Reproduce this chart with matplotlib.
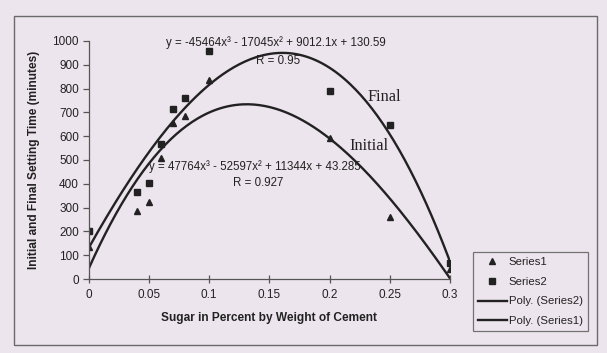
import numpy as np
import matplotlib.pyplot as plt
from matplotlib.patches import Rectangle
from matplotlib.lines import Line2D

# data
sugar = [0, 0.04, 0.05, 0.06, 0.07, 0.08, 0.1, 0.2, 0.25, 0.3]
series1 = [136, 287, 325, 510, 657, 686, 838, 591, 259, 41]   # initial
series2 = [203, 364, 402, 567, 716, 759, 959, 790, 647, 68]   # final

# trendline coefficients as printed on the chart (x^3, x^2, x, 1)
final_coef = [-45464, -17045, 9012.1, 130.59]
initial_coef = [47764, -52597, 11344, 43.285]
final_r = 0.95
initial_r = 0.927

x_ticks = [0, 0.05, 0.1, 0.15, 0.2, 0.25, 0.3]
x_labels = ['0', '0.05', '0.1', '0.15', '0.2', '0.25', '0.3']
y_ticks = list(range(0, 1001, 100))

bg = '#ede5ed'
ink = '#222222'
plt.rcParams['font.family'] = ['Liberation Sans', 'DejaVu Sans']

fig = plt.figure(figsize=(6.07, 3.53), dpi=100, facecolor=bg)
ax = fig.add_axes([0.1461, 0.2096, 0.5953, 0.6743], facecolor=bg)

# outer chart border
fig.patches.append(Rectangle((14 / 607, 1 - 345 / 353), 583 / 607, 329 / 353,
                             transform=fig.transFigure, fill=False,
                             edgecolor='#6a6a6a', linewidth=1.0))

xs = np.linspace(min(sugar), max(sugar), 200)
ax.plot(xs, np.polyval(final_coef, xs), color=ink, lw=1.7)
ax.plot(xs, np.polyval(initial_coef, xs), color=ink, lw=1.7)
ax.plot(sugar, series1, '^', color=ink, markersize=5, linestyle='none')
ax.plot(sugar, series2, 's', color=ink, markersize=4.8, linestyle='none')

ax.set_xlim(0, 0.3)
ax.set_ylim(0, 1000)
ax.set_xticks(x_ticks)
ax.set_xticklabels(x_labels)
ax.set_yticks(y_ticks)
for s in ['top', 'right']:
    ax.spines[s].set_visible(False)
for s in ['left', 'bottom']:
    ax.spines[s].set_color('#555555')
    ax.spines[s].set_linewidth(0.9)
ax.tick_params(axis='x', direction='inout', length=6, width=0.9, color='#555555',
               labelsize=8.5, labelcolor=ink, pad=4)
ax.tick_params(axis='y', direction='out', length=4, width=0.9, color='#555555',
               labelsize=8.5, labelcolor=ink, pad=3)
ax.set_xlabel('Sugar in Percent by Weight of Cement', fontsize=8.6,
              fontweight='bold', color=ink, labelpad=8)
ax.set_ylabel('Initial and Final Setting Time (minutes)', fontsize=8.6,
              fontweight='bold', color=ink, labelpad=9)

def eq_text(c):
    parts = 'y = %gx³' % c[0]
    parts += (' - %gx²' % -c[1]) if c[1] < 0 else (' + %gx²' % c[1])
    parts += (' - %gx' % -c[2]) if c[2] < 0 else (' + %gx' % c[2])
    parts += (' - %g' % -c[3]) if c[3] < 0 else (' + %g' % c[3])
    return parts

fig.text(276 / 607, 1 - 43 / 353, eq_text(final_coef), fontsize=8.3, color=ink,
         ha='center', va='center')
fig.text(278 / 607, 1 - 61 / 353, 'R = %g' % final_r, fontsize=8.3, color=ink,
         ha='center', va='center')
fig.text(255 / 607, 1 - 166.5 / 353, eq_text(initial_coef), fontsize=8.3, color=ink,
         ha='center', va='center')
fig.text(258 / 607, 1 - 182.5 / 353, 'R = %g' % initial_r, fontsize=8.3, color=ink,
         ha='center', va='center')

fig.text(367 / 607, 1 - 97 / 353, 'Final', fontsize=11.8, color=ink,
         family='Liberation Serif', ha='left', va='center')
fig.text(349 / 607, 1 - 146 / 353, 'Initial', fontsize=11.8, color=ink,
         family='Liberation Serif', ha='left', va='center')

handles = [
    Line2D([], [], marker='^', color=ink, linestyle='none', markersize=5),
    Line2D([], [], marker='s', color=ink, linestyle='none', markersize=4.8),
    Line2D([], [], color=ink, lw=1.7),
    Line2D([], [], color=ink, lw=1.7),
]
leg = fig.legend(handles, ['Series1', 'Series2', 'Poly. (Series2)', 'Poly. (Series1)'],
                 loc='upper left', bbox_to_anchor=(473 / 607, 1 - 252 / 353),
                 frameon=True, fancybox=False, fontsize=8.2, handlelength=2.5,
                 handletextpad=0.2, labelspacing=0.85, borderpad=0.45,
                 borderaxespad=0)
leg.get_frame().set_facecolor(bg)
leg.get_frame().set_edgecolor('#555555')
leg.get_frame().set_linewidth(0.9)
for t in leg.get_texts():
    t.set_color(ink)

fig.savefig('out.png', dpi=100, facecolor=bg)
